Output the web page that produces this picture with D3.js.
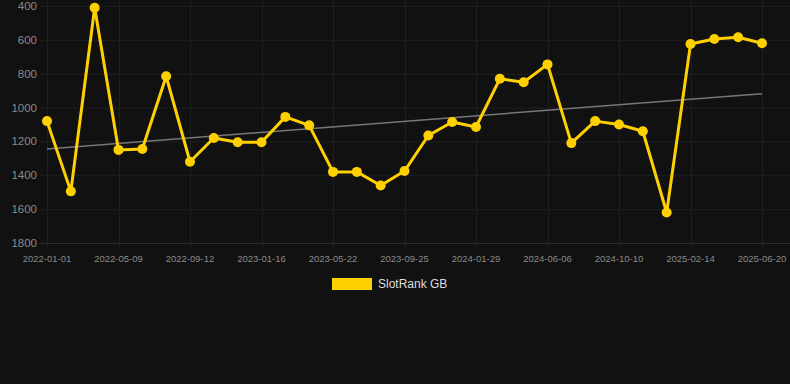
<!DOCTYPE html>
<html>
<head>
<meta charset="utf-8">
<script src="https://cdn.jsdelivr.net/npm/d3@7"></script>
<style>
  html, body { margin: 0; padding: 0; background: #111111; }
  svg { display: block; font-family: "Liberation Sans", Arial, sans-serif; }
</style>
</head>
<body>
<svg id="chart"></svg>
<script>
const W = 790, H = 384;

// estimated dates (~6 weeks apart), only every 3rd one is labelled
const dates = [
  "2022-01-01", "2022-02-12", "2022-03-26", "2022-05-09", "2022-06-20", "2022-08-01",
  "2022-09-12", "2022-10-24", "2022-12-05", "2023-01-16", "2023-02-27", "2023-04-10",
  "2023-05-22", "2023-07-03", "2023-08-14", "2023-09-25", "2023-11-06", "2023-12-18",
  "2024-01-29", "2024-03-11", "2024-04-22", "2024-06-06", "2024-07-18", "2024-08-29",
  "2024-10-10", "2024-11-21", "2025-01-02", "2025-02-14", "2025-03-28", "2025-05-09",
  "2025-06-20"
];
const rank = [
  1080, 1495, 410, 1250, 1245, 815, 1320, 1180, 1205, 1205, 1055, 1105,
  1380, 1380, 1460, 1375, 1165, 1085, 1115, 830, 850, 745, 1210, 1080,
  1100, 1140, 1620, 625, 595, 585, 620
];
const tickLabels = [
  "2022-01-01", "2022-05-09", "2022-09-12", "2023-01-16", "2023-05-22", "2023-09-25",
  "2024-01-29", "2024-06-06", "2024-10-10", "2025-02-14", "2025-06-20"
];
const yTicks = [400, 600, 800, 1000, 1200, 1400, 1600, 1800];
const trend = [1245, 918];
const seriesName = "SlotRank GB";

const gold = "#FFD000";
const svg = d3.select("#chart").attr("width", W).attr("height", H);

const x = d3.scalePoint().domain(dates).range([47, 762]);
const y = d3.scaleLinear().domain([400, 1800]).range([6, 243]);

// grid
const grid = svg.append("g");
grid.selectAll("line.h")
  .data(yTicks)
  .enter()
  .append("line")
  .attr("x1", 40).attr("x2", W)
  .attr("y1", d => y(d) + 0.5).attr("y2", d => y(d) + 0.5)
  .attr("stroke", d => d === 1800 ? "#2e2e2e" : "#1f1f1f")
  .attr("stroke-width", 1);
grid.selectAll("line.v")
  .data(tickLabels)
  .enter()
  .append("line")
  .attr("x1", d => Math.round(x(d)) + 0.5).attr("x2", d => Math.round(x(d)) + 0.5)
  .attr("y1", 0).attr("y2", 249)
  .attr("stroke", "#1f1f1f")
  .attr("stroke-width", 1);

// y labels
svg.append("g").selectAll("text")
  .data(yTicks)
  .enter()
  .append("text")
  .attr("x", 37)
  .attr("y", d => y(d))
  .attr("dy", "0.35em")
  .attr("text-anchor", "end")
  .attr("fill", "#8a8a8a")
  .attr("font-size", "11.5px")
  .text(d => d);

// x labels
svg.append("g").selectAll("text")
  .data(tickLabels)
  .enter()
  .append("text")
  .attr("x", d => x(d))
  .attr("y", 259)
  .attr("dy", "0.35em")
  .attr("text-anchor", "middle")
  .attr("fill", "#8a8a8a")
  .attr("font-size", "9.5px")
  .text(d => d);

// trend line
svg.append("line")
  .attr("x1", x(dates[0])).attr("y1", y(trend[0]))
  .attr("x2", x(dates[dates.length - 1])).attr("y2", y(trend[1]))
  .attr("stroke", "#777")
  .attr("stroke-width", 1.5);

// series
const pts = dates.map((d, i) => [x(d), y(rank[i])]);
svg.append("path")
  .attr("d", d3.line()(pts))
  .attr("fill", "none")
  .attr("stroke", gold)
  .attr("stroke-width", 3)
  .attr("stroke-linejoin", "round");

svg.append("g").selectAll("circle")
  .data(pts)
  .enter()
  .append("circle")
  .attr("cx", d => d[0])
  .attr("cy", d => d[1])
  .attr("r", 5)
  .attr("fill", gold);

// legend
svg.append("rect")
  .attr("x", 332).attr("y", 278)
  .attr("width", 40).attr("height", 12)
  .attr("fill", gold);
svg.append("text")
  .attr("x", 378).attr("y", 284)
  .attr("dy", "0.35em")
  .attr("fill", "#dddddd")
  .attr("font-size", "12px")
  .text(seriesName);
</script>
</body>
</html>
